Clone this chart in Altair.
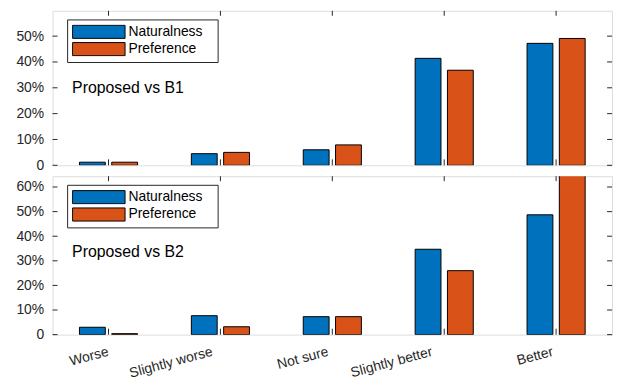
import altair as alt
import pandas as pd

categories = ["Worse", "Slightly worse", "Not sure", "Slightly better", "Better"]
series = ["Naturalness", "Preference"]
b1_naturalness = [0.012, 0.045, 0.060, 0.414, 0.472]
b1_preference = [0.012, 0.050, 0.079, 0.368, 0.491]
b2_naturalness = [0.030, 0.077, 0.073, 0.347, 0.487]
b2_preference = [0.004, 0.032, 0.073, 0.260, 0.660]
b1_ticks = [0, 0.1, 0.2, 0.3, 0.4, 0.5]
b2_ticks = [0, 0.1, 0.2, 0.3, 0.4, 0.5, 0.6]
panel_titles = ["Proposed vs B1", "Proposed vs B2"]
colors = ["#0072BD", "#D95319"]

W = 565
FONT = "Liberation Sans"
TXT = "#262626"

label_shift = alt.ConditionalAxisNumber(
    condition=[
        {"test": "datum.label == 'Slightly worse'", "value": -10},
        {"test": "datum.label == 'Slightly better'", "value": -14},
        {"test": "datum.label == 'Not sure'", "value": -6},
        {"test": "datum.label == 'Better'", "value": -5},
    ],
    value=-2,
)


def panel(nat, pref, ticks, ymax, H, title, show_x_labels, text_y):
    df = pd.DataFrame({
        "category": categories * 2,
        "series": [series[0]] * len(categories) + [series[1]] * len(categories),
        "value": nat + pref,
    })
    yscale = alt.Scale(domain=[0, ymax], nice=False, zero=True)
    xscale = alt.Scale(domain=categories, paddingInner=0, paddingOuter=0)
    if show_x_labels:
        xaxis = alt.Axis(title=None, labelAngle=345, labelAlign="right", labelBaseline="top",
                         labelPadding=10, ticks=False, tickSize=0, domain=False, grid=False,
                         labelOffset=label_shift,
                         labelFont=FONT, labelFontSize=14, labelColor=TXT)
    else:
        xaxis = None
    yaxis = alt.Axis(
        title=None, values=ticks,
        labelExpr="datum.value == 0 ? '0' : format(datum.value, '.0%')",
        ticks=False, tickSize=0, domain=False, grid=False, labelPadding=9,
        labelFont=FONT, labelFontSize=14, labelColor=TXT, minExtent=39, maxExtent=39)
    legend = alt.Legend(
        title=None, orient="none", legendX=14.7, legendY=8.7, direction="vertical",
        symbolType="M-1,-0.25H1V0.25H-1Z", symbolSize=2809, symbolStrokeColor="black",
        symbolStrokeWidth=1, symbolOpacity=1, clipHeight=15, rowPadding=2.5, labelOffset=3,
        padding=5, strokeColor=TXT, fillColor="white", labelFont=FONT, labelFontSize=14,
        labelColor="black", labelExpr="datum.label + '\u2800'",
    )
    bars = alt.Chart(df).mark_bar(stroke="black", strokeWidth=1, clip=True).encode(
        x=alt.X("category:N", sort=categories, scale=xscale, axis=xaxis),
        xOffset=alt.XOffset("series:N", sort=series,
                            scale=alt.Scale(paddingInner=0.2, paddingOuter=0.833)),
        y=alt.Y("value:Q", scale=yscale, axis=yaxis),
        color=alt.Color("series:N", sort=series, scale=alt.Scale(domain=series, range=colors),
                        legend=legend),
    )
    tdf = pd.DataFrame({"value": ticks})
    cdf = pd.DataFrame({"category": categories})
    left_ticks = alt.Chart(tdf).mark_rule(color=TXT, strokeWidth=1).encode(
        y=alt.Y("value:Q", scale=yscale, axis=yaxis), x=alt.value(0), x2=alt.value(5))
    right_ticks = alt.Chart(tdf).mark_rule(color=TXT, strokeWidth=1).encode(
        y=alt.Y("value:Q", scale=yscale, axis=yaxis), x=alt.value(W - 5), x2=alt.value(W))
    top_ticks = alt.Chart(cdf).mark_rule(color=TXT, strokeWidth=1).encode(
        x=alt.X("category:N", sort=categories, scale=xscale, axis=xaxis),
        y=alt.value(0), y2=alt.value(5))
    bottom_ticks = alt.Chart(cdf).mark_rule(color=TXT, strokeWidth=1).encode(
        x=alt.X("category:N", sort=categories, scale=xscale, axis=xaxis),
        y=alt.value(H - 6), y2=alt.value(H))
    label = alt.Chart(pd.DataFrame({"t": [title]})).mark_text(
        align="left", baseline="middle", fontSize=16, font=FONT, color="black").encode(
        text="t:N", x=alt.value(19.7), y=alt.value(text_y))
    return alt.layer(bars, left_ticks, right_ticks, top_ticks, bottom_ticks, label).properties(
        width=W, height=H)


top = panel(b1_naturalness, b1_preference, b1_ticks, 0.598, 156, panel_titles[0], False, 78)
bottom = panel(b2_naturalness, b2_preference, b2_ticks, 0.644, 160, panel_titles[1], True, 77)

chart = alt.vconcat(top, bottom, spacing=11, bounds="flush").resolve_scale(
    x="independent", y="independent", color="independent"
).resolve_legend(color="independent").properties(
    padding={"left": 5, "top": 0, "right": 5, "bottom": 0}
).configure_view(stroke=TXT, strokeWidth=1).configure(background="white")

chart.save("out.html", embed_options={"renderer": "svg", "actions": False})
